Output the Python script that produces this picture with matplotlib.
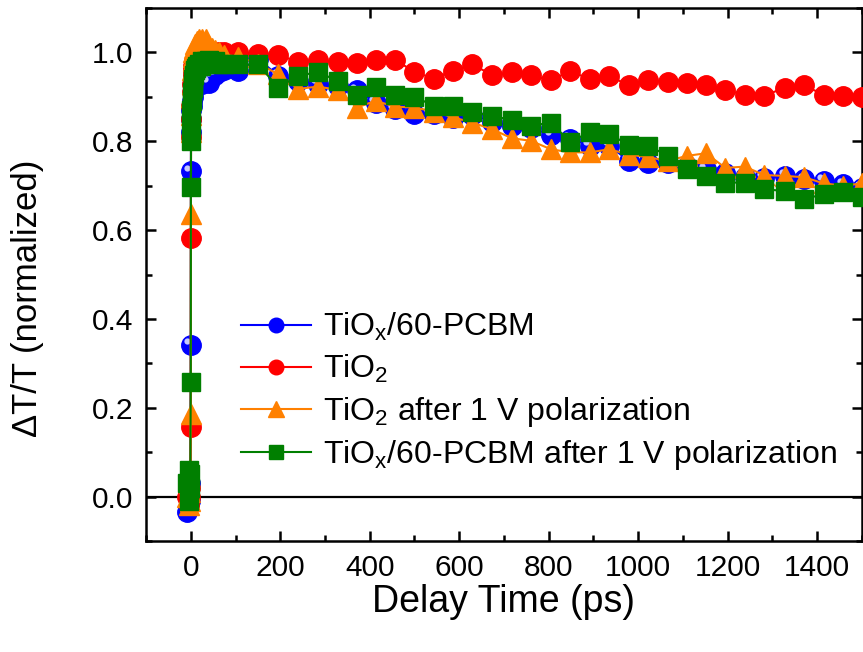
import numpy as np
import matplotlib
matplotlib.use("Agg")
import matplotlib.pyplot as plt
from matplotlib.ticker import MultipleLocator
from matplotlib.transforms import ScaledTranslation

plt.rcParams['font.family'] = ['Liberation Sans', 'DejaVu Sans']
plt.rcParams['mathtext.fontset'] = 'custom'
plt.rcParams['mathtext.rm'] = 'Liberation Sans'

# ---------------- data ----------------
# early (dense) delay times around time zero, ps
t_early = [-8, -5, -3, -2, -1, 0, 0.3, 0.6, 1, 1.5, 2, 3, 4, 5, 6, 8, 10,
           12, 15, 18, 22, 26, 30, 35, 40, 47, 55, 64, 75]
# later delay times, ps
t_late = [106, 151, 195, 240, 284, 328, 371, 413, 456, 500, 543, 586, 629,
          674, 717, 760, 805, 847, 892, 935, 979, 1022, 1067, 1108, 1151,
          1195, 1238, 1281, 1328, 1371, 1415, 1458, 1500]

blue_early = [-0.035, 0.01, 0.02, -0.01, 0.03, 0.342, 0.733, 0.82, 0.85, 0.87,
              0.88, 0.89, 0.90, 0.91, 0.915, 0.92, 0.925, 0.93, 0.93, 0.935,
              0.935, 0.93, 0.936, 0.94, 0.932, 0.945, 0.95, 0.955, 0.96]
blue_late = [0.958, 0.985, 0.948, 0.936, 0.930, 0.925, 0.915, 0.887, 0.872,
             0.862, 0.861, 0.852, 0.860, 0.843, 0.835, 0.830, 0.814, 0.806,
             0.790, 0.790, 0.756, 0.752, 0.752, 0.745, 0.737, 0.728, 0.720,
             0.718, 0.722, 0.714, 0.711, 0.703, 0.695]

red_early = [0.0, 0.01, -0.02, 0.02, 0.0, 0.157, 0.583, 0.81, 0.85, 0.88,
             0.91, 0.93, 0.95, 0.96, 0.97, 0.98, 0.985, 0.99, 0.995, 1.0,
             1.0, 0.995, 1.0, 1.005, 1.0, 1.0, 0.995, 1.0, 1.0]
red_late = [1.0, 0.996, 0.994, 0.979, 0.984, 0.978, 0.977, 0.982, 0.984,
            0.956, 0.941, 0.959, 0.973, 0.949, 0.955, 0.949, 0.937, 0.958,
            0.940, 0.947, 0.926, 0.938, 0.934, 0.932, 0.926, 0.916, 0.904,
            0.902, 0.921, 0.926, 0.904, 0.901, 0.899]

orange_early = [0.0, -0.02, 0.03, 0.01, -0.01, 0.186, 0.636, 0.82, 0.86,
                0.90, 0.93, 0.96, 0.98, 0.99, 1.00, 1.01, 1.02, 1.02, 1.025,
                1.03, 1.025, 1.03, 1.02, 1.03, 1.015, 1.01, 1.005, 1.0, 0.995]
orange_late = [0.990, 0.975, 0.951, 0.918, 0.923, 0.916, 0.876, 0.891, 0.878,
               0.876, 0.867, 0.854, 0.842, 0.827, 0.807, 0.801, 0.782, 0.775,
               0.775, 0.782, 0.770, 0.764, 0.756, 0.767, 0.773, 0.740, 0.743,
               0.724, 0.722, 0.719, 0.705, 0.700, 0.705]

green_early = [0.03, 0.06, -0.01, 0.02, 0.05, 0.257, 0.696, 0.80, 0.84, 0.87,
               0.89, 0.91, 0.92, 0.93, 0.94, 0.95, 0.96, 0.965, 0.97, 0.975,
               0.97, 0.98, 0.975, 0.98, 0.982, 0.978, 0.98, 0.975, 0.975]
green_late = [0.973, 0.973, 0.921, 0.947, 0.956, 0.936, 0.904, 0.923, 0.904,
              0.900, 0.880, 0.880, 0.866, 0.857, 0.848, 0.835, 0.842, 0.799,
              0.820, 0.816, 0.792, 0.790, 0.767, 0.737, 0.722, 0.707, 0.707,
              0.692, 0.688, 0.670, 0.681, 0.685, 0.674]

labels = [r'TiO$\mathregular{_x}$/60-PCBM',
          r'TiO$\mathregular{_2}$',
          r'TiO$\mathregular{_2}$ after 1 V polarization',
          r'TiO$\mathregular{_x}$/60-PCBM after 1 V polarization']

t = t_early + t_late
blue = blue_early + blue_late
red = red_early + red_late
orange = orange_early + orange_late
green = green_early + green_late

# ---------------- plot ----------------
fig = plt.figure(figsize=(8.63, 6.52), dpi=100)
ax = fig.add_axes([0.1692, 0.1702, 0.8296, 0.8175])

ax.axhline(0, color='black', lw=1.6, zorder=1)

h_blue, = ax.plot(t, blue, color='#0000FF', lw=1.5, marker='o', ms=14,
                  mec='#0000FF', mfc='#0000FF', zorder=2)
# little highlight on the blue spheres
hl = ax.transData + ScaledTranslation(-2.5 / 72, 2.5 / 72, fig.dpi_scale_trans)
ax.plot(t, blue, ls='none', marker='o', ms=4.5, mfc='#C8C8FF',
        mec='none', transform=hl, zorder=2.1)
h_red, = ax.plot(t, red, color='#FF0000', lw=1.5, marker='o', ms=14,
                 mec='#FF0000', mfc='#FF0000', zorder=3)
h_orange, = ax.plot(t, orange, color='#FF8000', lw=1.5, marker='^', ms=15,
                    mec='#FF8000', mfc='#FF8000', zorder=4)
h_green, = ax.plot(t, green, color='#007F00', lw=1.5, marker='s', ms=12.5,
                   mec='#007F00', mfc='#007F00', zorder=5)

ax.set_xlim(-100, 1500)
ax.set_ylim(-0.1, 1.1)
ax.xaxis.set_major_locator(MultipleLocator(200))
ax.xaxis.set_minor_locator(MultipleLocator(100))
ax.yaxis.set_major_locator(MultipleLocator(0.2))
ax.yaxis.set_minor_locator(MultipleLocator(0.1))
ax.yaxis.set_major_formatter(plt.FormatStrFormatter('%.1f'))

ax.tick_params(which='both', direction='in', top=True, right=True,
               width=1.8, labelsize=21.5, pad=9)
ax.tick_params(which='major', length=7.5)
ax.tick_params(which='minor', length=4.5)
for sp in ax.spines.values():
    sp.set_linewidth(1.8)

ax.set_xlabel('Delay Time (ps)', fontsize=27, labelpad=2)
ax.set_ylabel('ΔT/T (normalized)', fontsize=25)
ax.yaxis.set_label_coords(-0.142, 0.455)

leg = ax.legend([h_blue, h_red, h_orange, h_green], labels,
                loc='lower left', bbox_to_anchor=(0.115, 0.105),
                frameon=False, fontsize=23, markerscale=0.75,
                handlelength=2.2, handletextpad=0.35, labelspacing=0.3,
                borderaxespad=0)

fig.savefig('out.png', dpi=100)
